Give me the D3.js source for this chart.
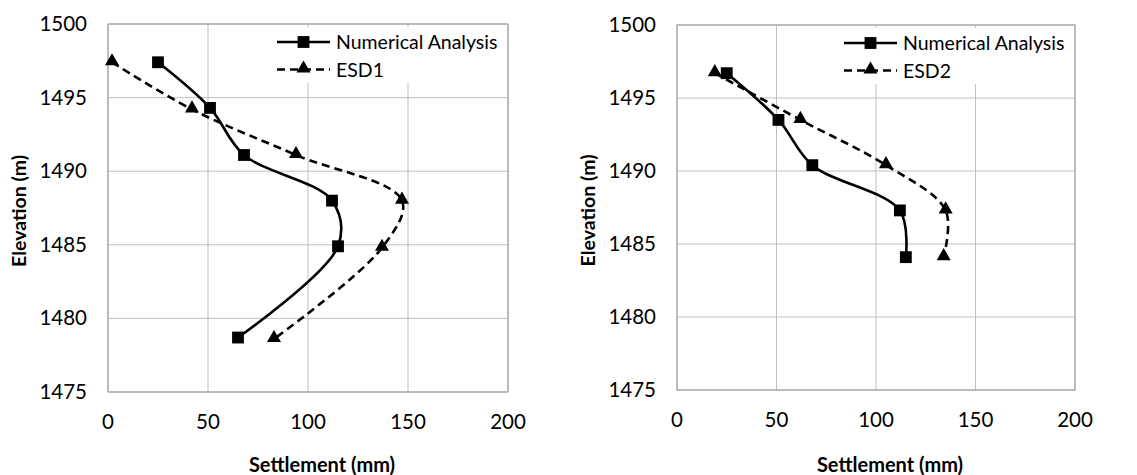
<!DOCTYPE html>
<html>
<head>
<meta charset="utf-8">
<script src="https://cdn.jsdelivr.net/npm/d3@7"></script>
<style>
  body { margin: 0; background: #fff; }
  svg text { font-family: Lato, "Open Sans", sans-serif; fill: #000; }
</style>
</head>
<body>
<div id="chart"></div>
<script>
// elevations (m) and settlements (mm)
const elevLeft = [1497.4, 1494.3, 1491.1, 1488.0, 1484.9, 1478.7];
const numLeft  = [25, 51, 68, 112, 115, 65];
const elevEsd1 = [1497.4, 1494.2, 1491.1, 1488.0, 1484.8, 1478.6];
const esd1     = [2, 42, 94, 147, 137, 83];

const elevRight = [1496.7, 1493.5, 1490.4, 1487.3, 1484.1];
const numRight  = [25, 51, 68, 112, 115];
const esd2      = [19, 62, 105, 135, 134];

const xTicks = [0, 50, 100, 150, 200];
const yTicks = [1475, 1480, 1485, 1490, 1495, 1500];

const svg = d3.select('#chart')
  .append('svg')
  .attr('width', 1137)
  .attr('height', 475);

function drawPanel(box, series) {
  const x = d3.scaleLinear().domain([0, 200]).range([box.left, box.right]);
  const y = d3.scaleLinear().domain([1475, 1500]).range([box.bottom, box.top]);
  const g = svg.append('g');

  // grid
  g.selectAll('.vgrid').data(xTicks).enter().append('line')
    .attr('x1', d => x(d)).attr('x2', d => x(d))
    .attr('y1', box.top).attr('y2', box.bottom)
    .attr('stroke', '#bfbfbf').attr('stroke-width', 1);
  g.selectAll('.hgrid').data(yTicks).enter().append('line')
    .attr('x1', box.left).attr('x2', box.right)
    .attr('y1', d => y(d)).attr('y2', d => y(d))
    .attr('stroke', '#bfbfbf').attr('stroke-width', 1);
  g.append('rect')
    .attr('x', box.left).attr('y', box.top)
    .attr('width', box.right - box.left).attr('height', box.bottom - box.top)
    .attr('fill', 'none').attr('stroke', '#a6a6a6').attr('stroke-width', 1.2);

  // tick labels
  g.selectAll('.xl').data(xTicks).enter().append('text')
    .attr('x', d => x(d)).attr('y', box.bottom + 37)
    .attr('text-anchor', 'middle').attr('font-size', 20.5)
    .text(d => d);
  g.selectAll('.yl').data(yTicks).enter().append('text')
    .attr('x', box.left - 21).attr('y', d => y(d) + 7)
    .attr('text-anchor', 'end').attr('font-size', 20.5)
    .text(d => d);

  // axis titles
  g.append('text')
    .attr('x', (box.left + box.right) / 2 + 14).attr('y', 472)
    .attr('text-anchor', 'middle').attr('font-size', 20).attr('font-weight', 'bold')
    .text('Settlement (mm)');
  g.append('text')
    .attr('transform', `translate(${box.left - 82},${(box.top + box.bottom) / 2 + 3}) rotate(-90)`)
    .attr('text-anchor', 'middle').attr('font-size', 19.5).attr('font-weight', 'bold')
    .text('Elevation (m)');

  // legend background covering grid
  g.append('rect')
    .attr('x', box.right - 240).attr('y', box.top + 3)
    .attr('width', 237).attr('height', 56)
    .attr('fill', '#fff');

  const line = d3.line()
    .x(d => x(d[0])).y(d => y(d[1]))
    .curve(d3.curveCatmullRom.alpha(0.5));

  series.forEach((s, i) => {
    const pts = s.vals.map((v, k) => [v, s.elev[k]]);
    g.append('path')
      .datum(pts)
      .attr('d', line)
      .attr('fill', 'none').attr('stroke', '#000').attr('stroke-width', 2.6)
      .attr('stroke-dasharray', s.dashed ? '8,5' : null);
    drawMarkers(g, pts.map(p => [x(p[0]), y(p[1])]), s.marker);

    // legend entry
    const ly = box.top + 18 + i * 27.5;
    const lx = box.right - 231;
    g.append('line')
      .attr('x1', lx).attr('x2', lx + 53)
      .attr('y1', ly).attr('y2', ly)
      .attr('stroke', '#000').attr('stroke-width', 2.6)
      .attr('stroke-dasharray', s.dashed ? '8,5' : null);
    drawMarkers(g, [[lx + 26.5, ly]], s.marker);
    g.append('text')
      .attr('x', lx + 59).attr('y', ly + 7)
      .attr('font-size', 19.5)
      .text(s.name);
  });
}

function drawMarkers(g, pts, kind) {
  const sym = kind === 'square'
    ? d3.symbol().type(d3.symbolSquare).size(140)
    : d3.symbol().type(d3.symbolTriangle).size(85);
  g.selectAll(null).data(pts).enter().append('path')
    .attr('d', sym)
    .attr('transform', d => `translate(${d[0]},${d[1] + (kind === 'square' ? 0 : -1)})`)
    .attr('fill', '#000');
}

drawPanel({ left: 108, right: 508, top: 24, bottom: 392 }, [
  { name: 'Numerical Analysis', vals: numLeft, elev: elevLeft, marker: 'square', dashed: false },
  { name: 'ESD1', vals: esd1, elev: elevEsd1, marker: 'triangle', dashed: true }
]);

drawPanel({ left: 677, right: 1075, top: 25, bottom: 390 }, [
  { name: 'Numerical Analysis', vals: numRight, elev: elevRight, marker: 'square', dashed: false },
  { name: 'ESD2', vals: esd2, elev: elevRight, marker: 'triangle', dashed: true }
]);
</script>
</body>
</html>
